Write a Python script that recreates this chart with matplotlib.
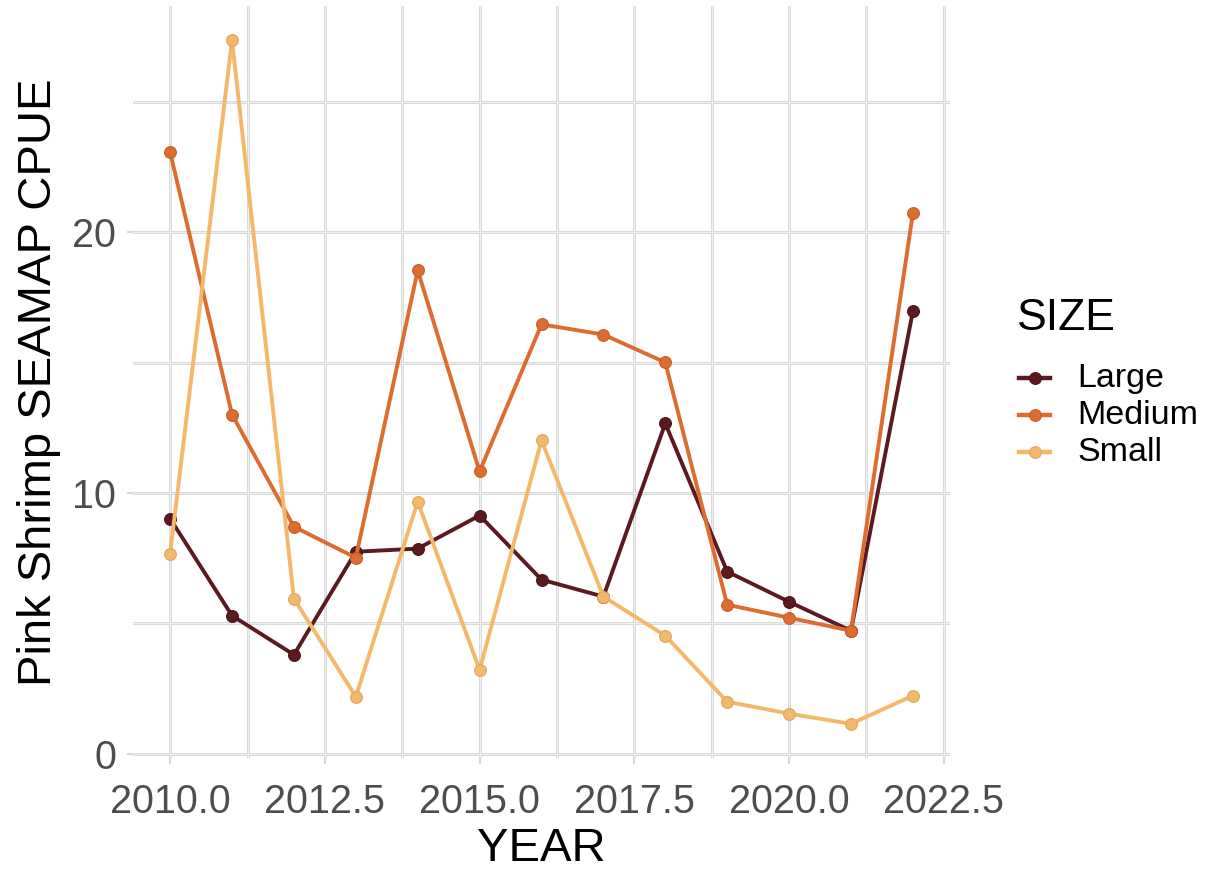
import matplotlib
matplotlib.use("Agg")
import matplotlib.pyplot as plt
from matplotlib.lines import Line2D

years = [2010, 2011, 2012, 2013, 2014, 2015, 2016, 2017, 2018, 2019, 2020, 2021, 2022]
large = [9.02, 5.30, 3.80, 7.75, 7.87, 9.14, 6.68, 6.03, 12.67, 6.99, 5.83, 4.72, 16.97]
medium = [23.07, 13.01, 8.71, 7.52, 18.54, 10.83, 16.47, 16.08, 15.01, 5.72, 5.22, 4.72, 20.73]
small = [7.68, 27.37, 5.95, 2.19, 9.67, 3.22, 12.02, 6.03, 4.53, 2.00, 1.54, 1.15, 2.23]
series_names = ["Large", "Medium", "Small"]
series_colors = ["#5a1a20", "#dc6c30", "#f3b86a"]
edge_colors = ["#4a1218", "#c85e28", "#dfa85e"]
x_ticks = [2010.0, 2012.5, 2015.0, 2017.5, 2020.0, 2022.5]
x_tick_labels = ["2010.0", "2012.5", "2015.0", "2017.5", "2020.0", "2022.5"]
x_minor = [2011.25, 2013.75, 2016.25, 2018.75, 2021.25]
y_ticks = [0, 10, 20]
y_tick_labels = ["0", "10", "20"]
y_minor = [5, 15, 25]

plt.rcParams['font.family'] = ['Liberation Sans', 'DejaVu Sans']

W, H = 1208, 869
fig = plt.figure(figsize=(W / 100, H / 100), dpi=100)
ax = fig.add_axes([133 / W, 1 - 758 / H, (950 - 133) / W, (758 - 6) / H])

xmin, xmax = 2009.4, 2022.6
ymin, ymax = -0.16, 28.68

# grid lines
for xv in x_ticks + x_minor:
    ax.axvline(xv, color='#d6d6d6', lw=2.0, zorder=0)
    ax.axvline(xv, color='#f5f5f5', lw=0.6, zorder=0.5)
for yv in y_ticks + y_minor:
    ax.axhline(yv, color='#d6d6d6', lw=2.0, zorder=0)
    ax.axhline(yv, color='#f5f5f5', lw=0.6, zorder=0.5)

for vals, name, col, ec in zip([large, medium, small], series_names, series_colors, edge_colors):
    ax.plot(years, vals, color=col, lw=2.8, marker='o', ms=8.5,
            markeredgewidth=0.8, markeredgecolor=ec, label=name, zorder=3)

ax.set_xlim(xmin, xmax)
ax.set_ylim(ymin, ymax)

ax.set_xticks(x_ticks)
ax.set_xticklabels(x_tick_labels)
ax.set_yticks(y_ticks)
ax.set_yticklabels(y_tick_labels)

for s in ax.spines.values():
    s.set_visible(False)
ax.tick_params(axis='both', which='major', length=4, width=1.5, color='#d6d6d6',
               labelsize=28.5, labelcolor='#4d4d4d')
ax.tick_params(axis='x', pad=14)
ax.tick_params(axis='y', pad=8)

ax.set_xlabel("YEAR", fontsize=34, color='black', labelpad=4)
ax.set_ylabel("Pink Shrimp SEAMAP CPUE", fontsize=34, color='black', labelpad=8)

# legend (manual placement)
fig.text(1017 / W, 1 - 318 / H, "SIZE", fontsize=32, color='black',
         ha='left', va='center')
for i, (name, col, ec) in enumerate(zip(series_names, series_colors, edge_colors)):
    yc = 1 - (378 + 37 * i) / H
    fig.add_artist(Line2D([1019 / W, 1050 / W], [yc, yc], color=col, lw=3.2,
                          transform=fig.transFigure))
    fig.add_artist(Line2D([1034.5 / W], [yc], color=col, marker='o', ms=8.5,
                          markeredgecolor=ec, markeredgewidth=0.8,
                          transform=fig.transFigure))
    fig.text(1077 / W, yc, name, fontsize=24.5, color='black', ha='left', va='center')

fig.savefig("out.png", dpi=100, facecolor='white')
